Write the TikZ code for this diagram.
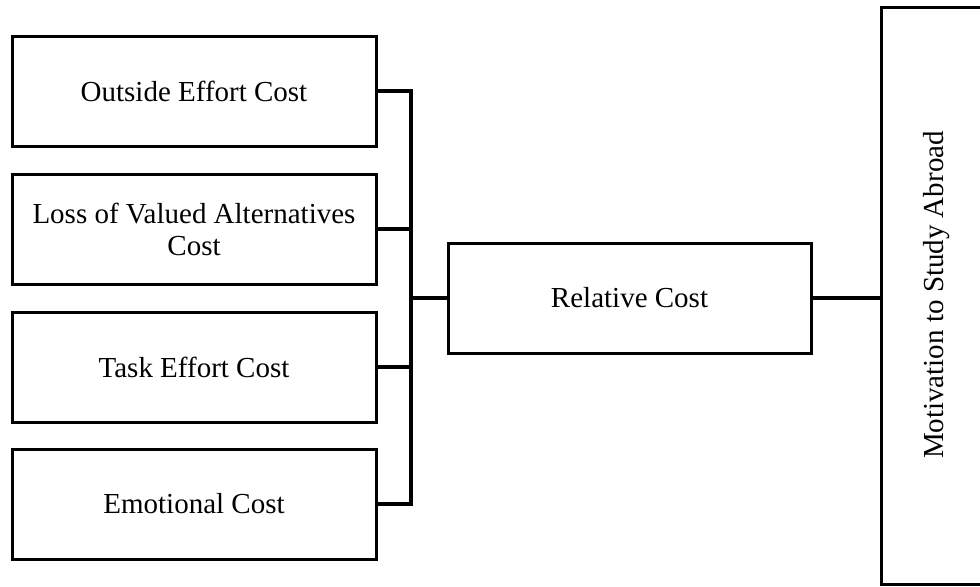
\documentclass[tikz,border=0pt]{standalone}
\usepackage{fontspec}
\setmainfont{Liberation Serif}
\begin{document}
\begin{tikzpicture}[x=0.5pt,y=-0.5pt,
  box/.style={draw, line width=1.5pt, minimum width=182pt, minimum height=55pt,
    align=center, inner sep=0pt, outer sep=0pt, font=\fontsize{14.5}{16}\selectfont},
  lbl/.style={inner sep=0pt, font=\fontsize{14.5}{16}\selectfont},
  conn/.style={draw, line width=1.6pt, line join=miter}]
\useasboundingbox (0,0) rectangle (980,586);
\clip (0,0) rectangle (980,586);
\node[box] (oe) at (194,91) {Outside Effort Cost};
\node[box] (lv) at (194,229) {Loss of Valued Alternatives\\Cost};
\node[box] (te) at (194,367) {Task Effort Cost};
\node[box] (em) at (194,504) {Emotional Cost};
\node[box, minimum width=181.5pt] (rc) at (629.5,298) {Relative Cost};
\node[box, anchor=north west, minimum width=60pt, minimum height=288.5pt] (mot) at (881,7) {};
\node[lbl, rotate=90] (motl) at (937,295) {Motivation to Study Abroad};
\coordinate (bus) at (411,298);
\path[conn] (oe.east) -| (bus);
\path[conn] (lv.east) -| (bus);
\path[conn] (te.east) -| (bus);
\path[conn] (em.east) -| (bus);
\path[conn] (bus) -- (rc.west);
\path[conn] (rc.east) -- (rc.east -| mot.west);
\end{tikzpicture}
\end{document}
